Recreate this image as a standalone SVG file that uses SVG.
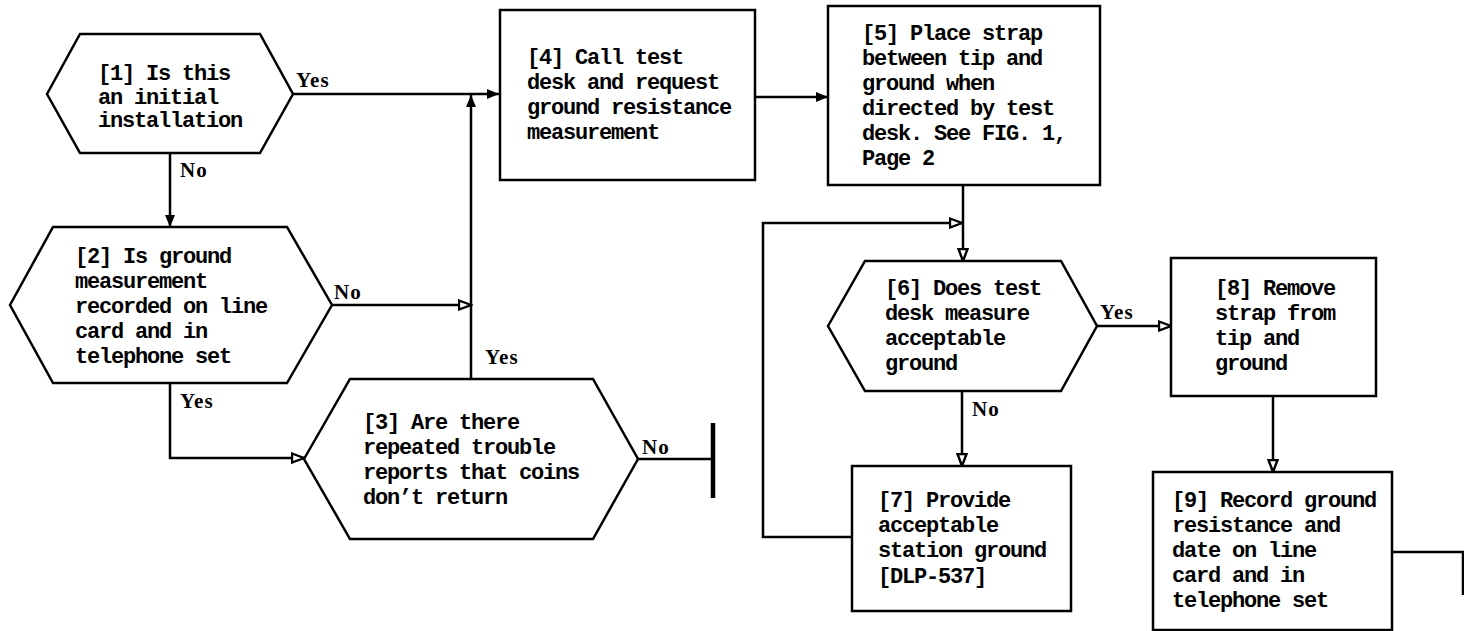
<svg xmlns="http://www.w3.org/2000/svg" width="1464" height="631" viewBox="0 0 1464 631">
<style>
.shape{fill:#fff;stroke:#000;stroke-width:2.5;stroke-linejoin:miter}
.t{font-family:"Liberation Mono","Courier New",monospace;font-weight:bold;font-size:22px;letter-spacing:-1.2px;fill:#000}
.lbl{font-family:"Liberation Serif","Times New Roman",serif;font-weight:bold;font-size:21px;letter-spacing:1.2px;fill:#000}
.c{fill:none;stroke:#000;stroke-width:2.5}
</style>
<defs>
<marker id="af" markerUnits="userSpaceOnUse" markerWidth="14" markerHeight="10" refX="12" refY="5" orient="auto">
<path d="M0,0 L12,5 L0,10 z" fill="#000"/>
</marker>
<marker id="ah" markerUnits="userSpaceOnUse" markerWidth="15" markerHeight="12" refX="13" refY="6" orient="auto">
<path d="M1,1.5 L13,6 L1,10.5 z" fill="#fff" stroke="#000" stroke-width="2.4"/>
</marker>
</defs>
<rect width="1464" height="631" fill="#fff"/>
<g id="connectors">
<path class="c" d="M293,94 H499" marker-end="url(#af)"/>
<path class="c" d="M170,153 V227" marker-end="url(#af)"/>
<path class="c" d="M332,305 H471" marker-end="url(#ah)"/>
<path class="c" d="M170,383 V458 H304" marker-end="url(#ah)"/>
<path class="c" d="M471,379 V95" marker-end="url(#af)"/>
<path class="c" d="M638,459 H713"/>
<path d="M713,423 V498" stroke="#000" stroke-width="4.5" fill="none"/>
<path class="c" d="M755,97 H828" marker-end="url(#af)"/>
<path class="c" d="M963,185 V261" marker-end="url(#ah)"/>
<path class="c" d="M852,537 H763 V223 H962" marker-end="url(#ah)"/>
<path class="c" d="M1097,326 H1171" marker-end="url(#ah)"/>
<path class="c" d="M962,391 V466" marker-end="url(#ah)"/>
<path class="c" d="M1273,396 V472" marker-end="url(#ah)"/>
<path class="c" d="M1392,552 H1463 V595"/>
<text class="lbl" x="296" y="87">Yes</text>
<text class="lbl" x="180" y="177">No</text>
<text class="lbl" x="334" y="299">No</text>
<text class="lbl" x="180" y="408">Yes</text>
<text class="lbl" x="485" y="364">Yes</text>
<text class="lbl" x="642" y="454">No</text>
<text class="lbl" x="1100" y="319">Yes</text>
<text class="lbl" x="972" y="416">No</text>
</g>
<g id="n1">
<polygon class="shape" points="47,94 80,34 260,34 293,94 260,153 80,153"/>
<text class="t"><tspan x="98" y="80">[1] Is this</tspan><tspan x="98" y="104">an initial</tspan><tspan x="98" y="127">installation</tspan></text>
</g>
<g id="n2">
<polygon class="shape" points="10,305 53,227 287,227 332,305 287,383 53,383"/>
<text class="t"><tspan x="75" y="263">[2] Is ground</tspan><tspan x="75" y="288">measurement</tspan><tspan x="75" y="313">recorded on line</tspan><tspan x="75" y="338">card and in</tspan><tspan x="75" y="363">telephone set</tspan></text>
</g>
<g id="n3">
<polygon class="shape" points="304,459 350,379 593,379 638,459 593,539 350,539"/>
<text class="t"><tspan x="363" y="429">[3] Are there</tspan><tspan x="363" y="454">repeated trouble</tspan><tspan x="363" y="479">reports that coins</tspan><tspan x="363" y="504">don’t return</tspan></text>
</g>
<g id="n4">
<rect class="shape" x="500" y="10" width="255" height="170"/>
<text class="t"><tspan x="527" y="64">[4] Call test</tspan><tspan x="527" y="89">desk and request</tspan><tspan x="527" y="114">ground resistance</tspan><tspan x="527" y="139">measurement</tspan></text>
</g>
<g id="n5">
<rect class="shape" x="828" y="6" width="272" height="179"/>
<text class="t"><tspan x="862" y="40">[5] Place strap</tspan><tspan x="862" y="65">between tip and</tspan><tspan x="862" y="90">ground when</tspan><tspan x="862" y="115">directed by test</tspan><tspan x="862" y="140">desk. See FIG. 1,</tspan><tspan x="862" y="165">Page 2</tspan></text>
</g>
<g id="n6">
<polygon class="shape" points="828,326 865,261 1061,261 1097,326 1061,391 865,391"/>
<text class="t"><tspan x="885" y="295">[6] Does test</tspan><tspan x="885" y="320">desk measure</tspan><tspan x="885" y="345">acceptable</tspan><tspan x="885" y="370">ground</tspan></text>
</g>
<g id="n7">
<rect class="shape" x="852" y="466" width="219" height="145"/>
<text class="t"><tspan x="878" y="507">[7] Provide</tspan><tspan x="878" y="532">acceptable</tspan><tspan x="878" y="557">station ground</tspan><tspan x="878" y="583">[DLP-537]</tspan></text>
</g>
<g id="n8">
<rect class="shape" x="1171" y="258" width="205" height="138"/>
<text class="t"><tspan x="1215" y="295">[8] Remove</tspan><tspan x="1215" y="320">strap from</tspan><tspan x="1215" y="345">tip and</tspan><tspan x="1215" y="370">ground</tspan></text>
</g>
<g id="n9">
<rect class="shape" x="1153" y="472" width="239" height="158"/>
<text class="t"><tspan x="1172" y="507">[9] Record ground</tspan><tspan x="1172" y="532">resistance and</tspan><tspan x="1172" y="557">date on line</tspan><tspan x="1172" y="582">card and in</tspan><tspan x="1172" y="607">telephone set</tspan></text>
</g>
</svg>
